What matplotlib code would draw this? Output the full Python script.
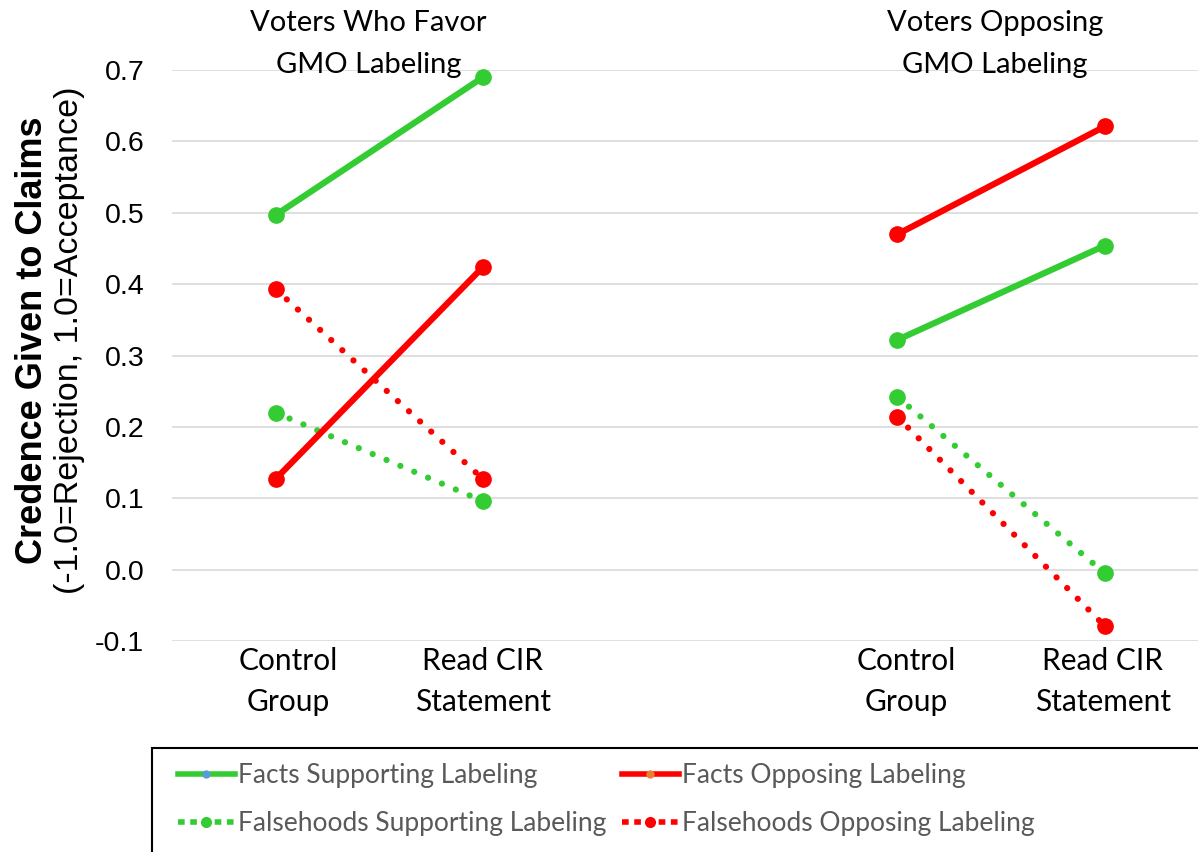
import matplotlib
matplotlib.use("Agg")
import matplotlib.pyplot as plt
from matplotlib.lines import Line2D
from matplotlib.patches import Rectangle

# positions 1,2 = favor group, 4,5 = opposing group
groups = ["Voters Who Favor\nGMO Labeling", "Voters Opposing\nGMO Labeling"]
conditions = ["Control\nGroup", "Read CIR\nStatement"]

series_names = [
    "Facts Supporting Labeling",
    "Facts Opposing Labeling",
    "Falsehoods Supporting Labeling",
    "Falsehoods Opposing Labeling",
]
# [favor control, favor read, oppose control, oppose read]
facts_support = [0.497, 0.690, 0.322, 0.454]
facts_oppose = [0.127, 0.424, 0.470, 0.621]
false_support = [0.220, 0.096, 0.242, -0.005]
false_oppose = [0.393, 0.127, 0.214, -0.079]

green = "#33CC33"
red = "#FF0000"
x_left = [1, 2]
x_right = [4, 5]

fig = plt.figure(figsize=(11.98, 8.52), dpi=100)
ax = fig.add_axes([0.1436, 0.2477, 0.8564, 0.670])

solid = dict(lw=4.5, marker="o", ms=11, solid_capstyle="round", clip_on=False, zorder=3)
dotted = dict(lw=4.5, marker="o", ms=11, linestyle=(0, (0.01, 2.4)),
              dash_capstyle="round", clip_on=False, zorder=3)

for xs, sl in ((x_left, slice(0, 2)), (x_right, slice(2, 4))):
    ax.plot(xs, false_support[sl], color=green, **dotted)
    ax.plot(xs, false_oppose[sl], color=red, **dotted)
    ax.plot(xs, facts_support[sl], color=green, **solid)
    ax.plot(xs, facts_oppose[sl], color=red, **solid)

ax.set_xlim(0.5, 5.45)
ax.set_ylim(-0.1, 0.7)
ax.set_yticks([i / 10 for i in range(-1, 8)])
ax.set_yticklabels([f"{i / 10:.1f}" for i in range(-1, 8)],
                   fontfamily="Liberation Sans", fontsize=20.5)
# category labels sit a little off the markers, as in the original
ax.set_xticks([1.06, 2.0, 4.04, 4.99])
ax.set_xticklabels(conditions * 2, fontfamily="Lato", fontsize=21.5, linespacing=1.6)
ax.tick_params(axis="both", length=0)
ax.tick_params(axis="y", pad=20)
ax.tick_params(axis="x", pad=4)
ax.grid(axis="y", color="#D9D9D9", lw=1.2)
ax.set_axisbelow(True)
for s in ax.spines.values():
    s.set_visible(False)

ax.text(1.447, 0.737, groups[0], ha="center", va="center", fontfamily="Lato",
        fontsize=21, linespacing=1.75, clip_on=False)
ax.text(4.47, 0.737, groups[1], ha="center", va="center", fontfamily="Lato",
        fontsize=21, linespacing=1.75, clip_on=False)

fig.text(0.027, 0.601, "Credence Given to Claims", rotation=90, ha="center",
         va="center", fontfamily="Liberation Sans", fontweight="bold", fontsize=26)
fig.text(0.058, 0.601, "(-1.0=Rejection, 1.0=Acceptance)", rotation=90,
         ha="center", va="center", fontfamily="Liberation Sans", fontsize=24.5)

handles = [
    Line2D([], [], color=green, lw=4, marker="o", ms=5, mfc="#5B9BD5", mec="#5B9BD5"),
    Line2D([], [], color=red, lw=4, marker="o", ms=5, mfc="#ED7D31", mec="#ED7D31"),
    Line2D([], [], color=green, lw=4, marker="o", ms=7, linestyle=(0, (1.2, 1.0))),
    Line2D([], [], color=red, lw=4, marker="o", ms=7, linestyle=(0, (1.2, 1.0))),
]
order = [0, 2, 1, 3]
leg = fig.legend([handles[i] for i in order], [series_names[i] for i in order],
                 ncol=2, loc="upper left", bbox_to_anchor=(0.1386, 0.118),
                 frameon=False, prop={"family": "Lato", "size": 19},
                 handlelength=2.15, handletextpad=0.12, columnspacing=0.6,
                 labelspacing=0.85, borderpad=0.45, borderaxespad=0)
for t in leg.get_texts():
    t.set_color("#595959")

# legend box runs off the right and bottom edges of the picture
fig.patches.append(Rectangle((0.127, -0.05), 0.9, 0.172, transform=fig.transFigure,
                             fill=False, edgecolor="black", lw=1.5))

fig.savefig("out.png", dpi=100)
